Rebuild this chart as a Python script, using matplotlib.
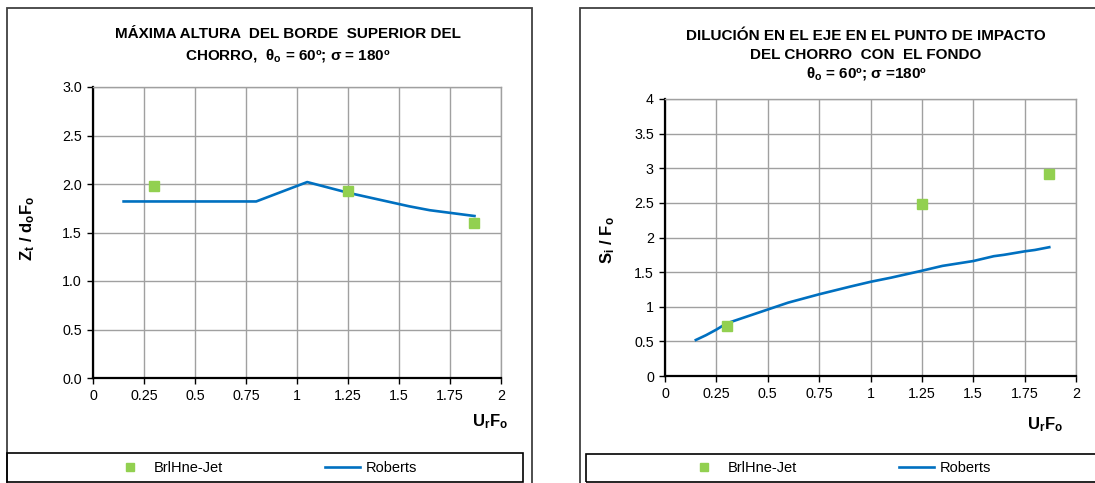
import numpy as np
import matplotlib
matplotlib.use('Agg')
import matplotlib.pyplot as plt
from matplotlib.patches import Rectangle

plt.rcParams['font.family'] = ['Liberation Sans', 'DejaVu Sans']
plt.rcParams['mathtext.fontset'] = 'custom'
plt.rcParams['mathtext.rm'] = 'Liberation Sans'
plt.rcParams['mathtext.it'] = 'Liberation Sans'
plt.rcParams['mathtext.bf'] = 'Liberation Sans:bold'

W, H = 1095, 483

# Máxima altura del borde superior del chorro
alt_exp_x = [0.30, 1.25, 1.87]
alt_exp_y = [1.98, 1.93, 1.60]
alt_rob_x = [0.15, 0.80, 1.05, 1.25, 1.40, 1.55, 1.65, 1.87]
alt_rob_y = [1.82, 1.82, 2.02, 1.91, 1.84, 1.77, 1.73, 1.67]

# Dilución en el eje en el punto de impacto
dil_exp_x = [0.30, 1.25, 1.87]
dil_exp_y = [0.72, 2.48, 2.91]
dil_rob_x = [0.15, 0.20, 0.25, 0.30, 0.40, 0.50, 0.60, 0.75, 0.90, 1.00,
             1.10, 1.25, 1.35, 1.50, 1.60, 1.65, 1.75, 1.80, 1.87]
dil_rob_y = [0.52, 0.59, 0.67, 0.76, 0.86, 0.96, 1.06, 1.18, 1.29, 1.36,
             1.42, 1.52, 1.59, 1.66, 1.73, 1.75, 1.80, 1.82, 1.86]

x_ticks = [0, 0.25, 0.5, 0.75, 1, 1.25, 1.5, 1.75, 2]
x_labels = ['0', '0.25', '0.5', '0.75', '1', '1.25', '1.5', '1.75', '2']
alt_ticks = [0, 0.5, 1.0, 1.5, 2.0, 2.5, 3.0]
alt_labels = ['0.0', '0.5', '1.0', '1.5', '2.0', '2.5', '3.0']
dil_ticks = [0, 0.5, 1, 1.5, 2, 2.5, 3, 3.5, 4]
dil_labels = ['0', '0.5', '1', '1.5', '2', '2.5', '3', '3.5', '4']

GREEN = '#92D050'
BLUE = '#0070C0'
GRID = '#A0A0A0'
TITLE_SIZE = 11


def fx(px):
    return px / W


def fy(py):
    return 1 - py / H


def box(fig, x0, y0, x1, y1, color, lw):
    fig.patches.append(Rectangle((fx(x0), fy(y1)), fx(x1) - fx(x0), fy(y0) - fy(y1),
                                 transform=fig.transFigure, fill=False,
                                 edgecolor=color, linewidth=lw, clip_on=False))


def style_axes(ax, yticks, ylabels, ymax):
    ax.set_xlim(0, 2)
    ax.set_ylim(0, ymax)
    ax.set_xticks(x_ticks)
    ax.set_xticklabels(x_labels)
    ax.set_yticks(yticks)
    ax.set_yticklabels(ylabels)
    ax.grid(True, color=GRID, linewidth=1.0)
    ax.set_axisbelow(True)
    for s in ['left', 'bottom']:
        ax.spines[s].set_color('black')
        ax.spines[s].set_linewidth(1.6)
    for s in ['top', 'right']:
        ax.spines[s].set_color(GRID)
        ax.spines[s].set_linewidth(1.0)
    ax.tick_params(direction='out', length=4, width=1, labelsize=10.3, pad=4,
                   colors='black')


fig = plt.figure(figsize=(W / 100, H / 100), dpi=100)

# chart areas and legend frames
box(fig, 7, 8, 532, 495, '#404040', 1.3)
box(fig, 580, 8, 1110, 495, '#404040', 1.3)
box(fig, 7, 453, 523, 482, 'black', 1.2)
box(fig, 586, 454, 1110, 482, 'black', 1.2)

# left chart
ax1 = fig.add_axes([fx(93), fy(378), fx(501) - fx(93), fy(87) - fy(378)])
style_axes(ax1, alt_ticks, alt_labels, 3.0)
ax1.plot(alt_rob_x, alt_rob_y, color=BLUE, linewidth=1.9, label='Roberts', zorder=3)
ax1.plot(alt_exp_x, alt_exp_y, linestyle='none', marker='s', markersize=7.5,
         color=GREEN, label='BrlHne-Jet', zorder=4)

fig.text(fx(288), fy(34), 'MÁXIMA ALTURA  DEL BORDE  SUPERIOR DEL',
         ha='center', va='center', fontsize=TITLE_SIZE, fontweight='bold')
fig.text(fx(288), fy(55), r'CHORRO,  $\mathbf{θ_o}$ = 60º; σ = 180º',
         ha='center', va='center', fontsize=TITLE_SIZE, fontweight='bold')
fig.text(fx(28), fy(228), r'$\mathbf{Z_t\ /\ d_oF_o}$', rotation=90,
         ha='center', va='center', fontsize=12)
fig.text(fx(490), fy(422), r'$\mathbf{U_rF_o}$', ha='center', va='center',
         fontsize=12)

# right chart
ax2 = fig.add_axes([fx(665), fy(376), fx(1076) - fx(665), fy(99) - fy(376)])
style_axes(ax2, dil_ticks, dil_labels, 4)
ax2.plot(dil_rob_x, dil_rob_y, color=BLUE, linewidth=1.9, label='Roberts', zorder=3)
ax2.plot(dil_exp_x, dil_exp_y, linestyle='none', marker='s', markersize=7.5,
         color=GREEN, label='BrlHne-Jet', zorder=4)

fig.text(fx(866), fy(36), 'DILUCIÓN EN EL EJE EN EL PUNTO DE IMPACTO',
         ha='center', va='center', fontsize=TITLE_SIZE, fontweight='bold')
fig.text(fx(866), fy(55), 'DEL CHORRO  CON  EL FONDO',
         ha='center', va='center', fontsize=TITLE_SIZE, fontweight='bold')
fig.text(fx(866), fy(74), r'$\mathbf{θ_o}$ = 60º; σ =180º',
         ha='center', va='center', fontsize=TITLE_SIZE, fontweight='bold')
fig.text(fx(608), fy(240), r'$\mathbf{S_i\ /\ F_o}$', rotation=90,
         ha='center', va='center', fontsize=12)
fig.text(fx(1045), fy(425), r'$\mathbf{U_rF_o}$', ha='center', va='center',
         fontsize=12)

# legends below each chart
for ax, cx in [(ax1, 265), (ax2, 839)]:
    handles, labels = ax.get_legend_handles_labels()
    order = [labels.index('BrlHne-Jet'), labels.index('Roberts')]
    fig.legend([handles[i] for i in order], [labels[i] for i in order],
               loc='center', bbox_to_anchor=(fx(cx), fy(468)), ncol=2,
               frameon=False, fontsize=10.5, handlelength=2.4,
               handletextpad=0.4, columnspacing=7.0, markerscale=0.8)

fig.savefig('out.png', dpi=100)
